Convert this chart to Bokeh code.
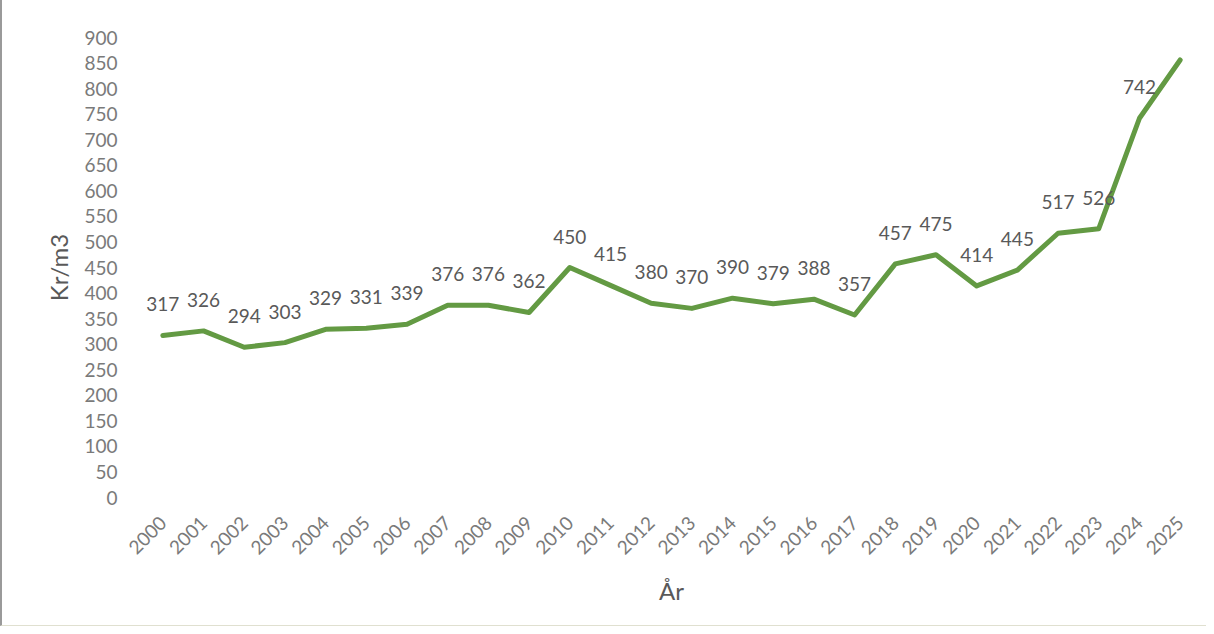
from bokeh.plotting import figure
from bokeh.models import Range1d, ColumnDataSource, LabelSet, FixedTicker
from bokeh.core.properties import value
from bokeh.embed import file_html
from bokeh.resources import INLINE

years = list(range(2000, 2026))
prices = [317, 326, 294, 303, 329, 331, 339, 376, 376, 362, 450, 415, 380, 370,
          390, 379, 388, 357, 457, 475, 414, 445, 517, 526, 742, 856]
y_ticks = list(range(0, 901, 50))

FONT = "Lato"
LINE_COLOR = "#639a43"
TICK_COLOR = "#7a7a7a"
LABEL_COLOR = "#595959"

src = ColumnDataSource(dict(x=years, y=prices, t=[str(v) for v in prices]))

p = figure(width=1206, height=626, output_backend="svg", toolbar_location=None,
           x_range=Range1d(1999.5, 2025.5), y_range=Range1d(0, 900),
           min_border_left=140, min_border_right=8, min_border_top=37, min_border_bottom=129)

p.line("x", "y", source=src, line_color=LINE_COLOR, line_width=5, line_join="round", line_cap="round")

labels = LabelSet(x="x", y="y", text="t", source=src, y_offset=31, text_align="center",
                  text_baseline="middle", text_font=value(FONT), text_font_size=value("19px"),
                  text_color=value(LABEL_COLOR))
p.add_layout(labels)

p.xgrid.visible = False
p.ygrid.visible = False
p.outline_line_color = None

p.xaxis.ticker = FixedTicker(ticks=years)
p.xaxis.major_label_orientation = 0.785398
p.yaxis.ticker = FixedTicker(ticks=y_ticks)

for ax in (p.xaxis[0], p.yaxis[0]):
    ax.axis_line_color = None
    ax.major_tick_line_color = None
    ax.minor_tick_line_color = None
    ax.major_tick_out = 0
    ax.major_tick_in = 0
    ax.major_label_text_font = FONT
    ax.major_label_text_font_size = "19px"
    ax.major_label_text_color = TICK_COLOR
    ax.axis_label_text_font = FONT
    ax.axis_label_text_font_size = "24px"
    ax.axis_label_text_font_style = "normal"
    ax.axis_label_text_color = LABEL_COLOR

p.xaxis.axis_label = "År"
p.yaxis.axis_label = "Kr/m3"
p.xaxis.major_label_standoff = 22
p.yaxis.major_label_standoff = 25
p.xaxis.axis_label_standoff = 12
p.yaxis.axis_label_standoff = 8

p.styles = {"border-left": "2px solid #9a9a9a", "border-bottom": "1px solid #e0e0d0"}

open("out.html", "w").write(file_html(p, INLINE))
